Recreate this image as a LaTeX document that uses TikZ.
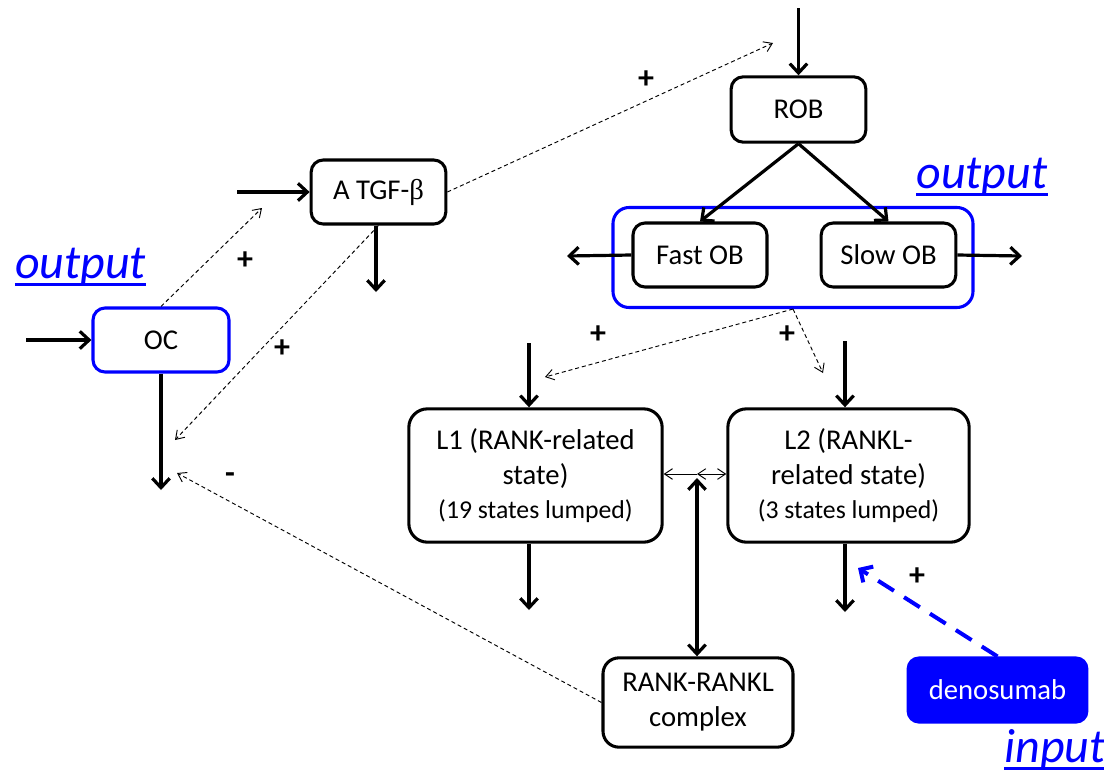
\documentclass[tikz,border=0pt]{standalone}
\usepackage{fontspec}
\setmainfont{Carlito}
\newfontfamily\betafont{Liberation Serif}
\usetikzlibrary{arrows.meta}
\definecolor{pblue}{RGB}{0,0,255}
\begin{document}
\begin{tikzpicture}[x=0.75pt,y=-0.75pt,
  box/.style={draw, line width=2.3pt, rounded corners=9pt, align=center,
    font=\fontsize{21.5}{26.3}\selectfont, inner sep=0pt, fill=white},
  bigbox/.style={box, rounded corners=14pt},
  bluebox/.style={box, draw=pblue},
  thickarrow/.style={line width=2.4pt, -{Straight Barb[length=7pt,width=13pt,line width=2.4pt]}},
  thickboth/.style={line width=2.4pt, {Straight Barb[length=7pt,width=13pt,line width=2.4pt]}-{Straight Barb[length=7pt,width=13pt,line width=2.4pt]}},
  dasharrow/.style={line width=0.7pt, dash pattern=on 3pt off 2.2pt, -{Straight Barb[length=6pt,width=8pt,line width=0.7pt]}},
  thinarrow/.style={line width=0.7pt, -{Straight Barb[length=6pt,width=8pt,line width=0.7pt]}},
  thinboth/.style={line width=0.7pt, {Straight Barb[length=6pt,width=8pt,line width=0.7pt]}-{Straight Barb[length=6pt,width=8pt,line width=0.7pt]}},
  sign/.style={font=\fontsize{24}{28}\selectfont\bfseries, inner sep=0pt},
  outtext/.style={text=pblue, font=\fontsize{36}{40}\selectfont\itshape, inner sep=0pt, anchor=base},
  uline/.style={pblue, line width=2pt},
]
\useasboundingbox (0,0) rectangle (1104,772);

% nodes
\node[bluebox, minimum width=102pt, minimum height=48pt] (OC) at (161,340) {OC};
\node[box, minimum width=101pt, minimum height=48pt] (ATGF) at (378.5,192) {A TGF-{\betafont β}};
\node[box, minimum width=101pt, minimum height=49pt] (ROB) at (798.5,109.5) {ROB};
\node[bluebox, minimum width=270pt, minimum height=75pt, fill=none, rounded corners=12pt] (grp) at (793,257.5) {};
\node[box, minimum width=100.5pt, minimum height=48pt] (FOB) at (700,255) {Fast OB};
\node[box, minimum width=101pt, minimum height=48pt] (SOB) at (888.5,255) {Slow OB};
\node[bigbox, minimum width=190pt, minimum height=100pt] (L1) at (535.5,475.5)
  {L1 (RANK-related\\state)\\[-1pt]{\fontsize{19.3}{24}\selectfont (19 states lumped)}};
\node[bigbox, minimum width=181pt, minimum height=100pt] (L2) at (848.5,475.5)
  {L2 (RANKL-\\related state)\\[-1pt]{\fontsize{19.3}{24}\selectfont (3 states lumped)}};
\node[box, rounded corners=12pt, minimum width=142.5pt, minimum height=67pt] (RR) at (698,702.5)
  {RANK-RANKL\\complex};
\node[box, draw=pblue, fill=pblue, text=white, rounded corners=8pt, minimum width=134pt, minimum height=48pt] (den) at (997.5,690) {denosumab};

% free ends
\coordinate (ocin) at (26,340);
\coordinate (ocout) at (161,490);
\coordinate (tgfin) at (237,192);
\coordinate (tgfout) at (376,292);
\coordinate (robin) at (798.5,8);
\coordinate (fobout) at (567,256);
\coordinate (sobout) at (1022,256);
\coordinate (l1in) at (529,343);
\coordinate (l2in) at (845,341);
\coordinate (l1out) at (529,610);
\coordinate (l2out) at (845,612);
\coordinate (junc) at (697,474);
\coordinate (jbot) at (697,478);
\coordinate (d1) at (262,208);
\coordinate (d2) at (175,440);
\coordinate (d3) at (773,43);
\coordinate (d4) at (545,377);
\coordinate (d5) at (823,373);
\coordinate (d6) at (177,473);
\coordinate (d7) at (858,568);

% thick connectors
\draw[thickarrow] (ocin) -- (OC.west);
\draw[thickarrow] (OC.south) -- (ocout);
\draw[thickarrow] (tgfin) -- (ATGF.west);
\draw[thickarrow] (ATGF.south -| tgfout) -- (tgfout);
\draw[thickarrow] (robin) -- (ROB.north);
\draw[thickarrow] (ROB.south) -- (FOB.north);
\draw[thickarrow] (ROB.south) -- (SOB.north);
\draw[thickarrow] (FOB.west) -- (fobout);
\draw[thickarrow] (SOB.east) -- (sobout);
\draw[thickarrow] (l1in) -- (l1in |- L1.north);
\draw[thickarrow] (l2in) -- (l2in |- L2.north);
\draw[thickarrow] (l1out |- L1.south) -- (l1out);
\draw[thickarrow] (l2out |- L2.south) -- (l2out);
\draw[thickboth] (jbot) -- (jbot |- RR.north);

% thin connectors
\draw[thinarrow] (junc) -- (junc -| L1.east);
\draw[thinboth] (junc) -- (junc -| L2.west);

% dashed influences
\draw[dasharrow] (OC.north) -- (d1);
\draw[dasharrow] (ATGF.south) -- (d2);
\draw[dasharrow] (ATGF.east) -- (d3);
\draw[dasharrow] (grp.south) -- (d4);
\draw[dasharrow] (grp.south) -- (d5);
\draw[dasharrow] (RR.west) -- (d6);
\draw[pblue, line width=3pt, dash pattern=on 14pt off 9pt,
  -{Straight Barb[length=7pt,width=14pt,line width=3pt]}] (den.north) -- (d7);

% signs
\node[sign] (p1) at (245,261) {+};
\node[sign] (p2) at (282,349) {+};
\node[sign] (p3) at (646,80) {+};
\node[sign] (p4) at (598,335) {+};
\node[sign] (p5) at (787,335) {+};
\node[sign] (p6) at (917,577) {+};
\node[sign] (m1) at (230,478) {-};

% output / input labels
\node[outtext] (outL) at (80.5,278) {output};
\draw[uline] ([yshift=-5pt]outL.base west) -- ([yshift=-5pt]outL.base east);
\node[outtext] (outR) at (982,188) {output};
\draw[uline] ([yshift=-5pt]outR.base west) -- ([yshift=-5pt]outR.base east);
\node[outtext] (inp) at (1055,762) {input};
\draw[uline] ([yshift=-5pt]inp.base west) -- ([yshift=-5pt]inp.base east);
\end{tikzpicture}
\end{document}
